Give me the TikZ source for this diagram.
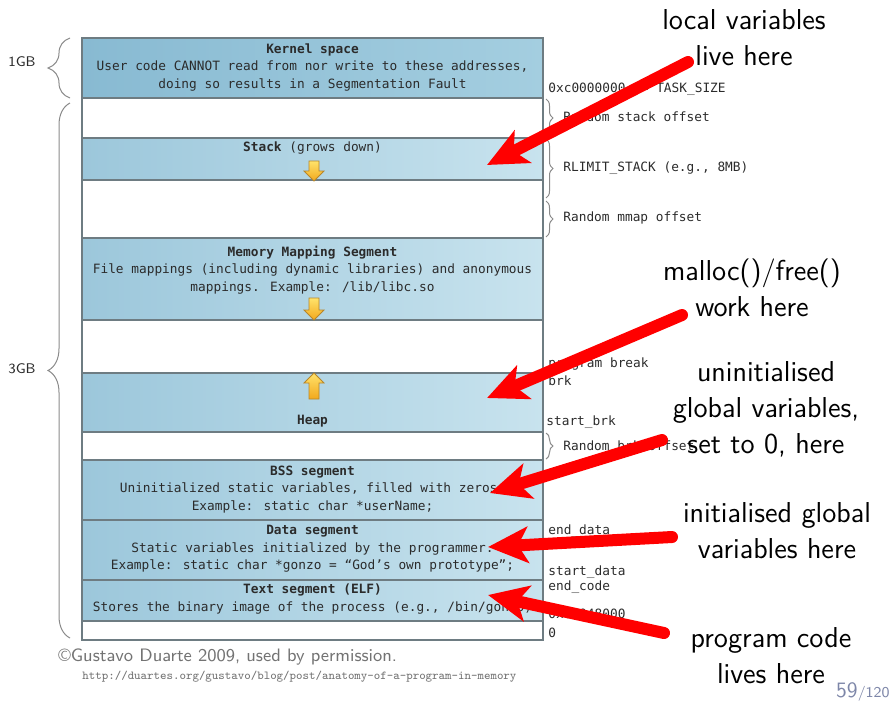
\documentclass[tikz,border=0pt]{standalone}
\usepackage{fontspec}
\newfontfamily\diagfont{DejaVu Sans Mono}
\usepackage{tikz}
\usetikzlibrary{positioning}
\usetikzlibrary{arrows.meta}
\usetikzlibrary{decorations.pathreplacing}
\definecolor{segL}{HTML}{9CC7DB}
\definecolor{segR}{HTML}{C8E3EE}
\definecolor{kerL}{HTML}{88BAD2}
\definecolor{kerR}{HTML}{A4CEE0}
\definecolor{segline}{HTML}{6E7C82}
\definecolor{inkgray}{HTML}{2B2B2B}
\definecolor{bracegray}{HTML}{8A8A8A}
\definecolor{growA}{HTML}{FFE36B}
\definecolor{growB}{HTML}{F2A81D}
\definecolor{growline}{HTML}{B7862A}
\definecolor{footgray}{HTML}{7D86A8}
\tikzset{
  seg/.style={draw=segline, line width=0.7pt, left color=segL, right color=segR},
  kernelseg/.style={draw=segline, line width=0.7pt, left color=kerL, right color=kerR},
  freeseg/.style={draw=segline, line width=0.7pt, fill=white},
  segtext/.style={font=\diagfont\fontsize{6.4}{8.75}\selectfont, text=inkgray, align=center, inner sep=0pt},
  addr/.style={font=\diagfont\fontsize{6.4}{8.75}\selectfont, text=inkgray, anchor=west, inner sep=0pt},
  bigbrace/.style={decorate, decoration={brace, amplitude=11pt}, draw=bracegray, line width=0.5pt},
  smallbrace/.style={decorate, decoration={brace, amplitude=3.5pt}, draw=bracegray, line width=0.5pt},
  growth/.style={draw=growline, line width=0.4pt, top color=growA, bottom color=growB},
  redarrow/.style={draw=red, line width=6pt, line cap=round, -{Stealth[length=20pt, width=18pt, inset=5pt]}},
  sidenote/.style={font=\sffamily\fontsize{14.4}{18}\selectfont, align=center, inner sep=0pt}
}
\begin{document}
\begin{tikzpicture}[x=0.5pt, y=-0.5pt]
\useasboundingbox (0,0) rectangle (892,702);

%Segments
\draw[kernelseg] (82,38) rectangle (543,98);
\draw[freeseg] (82,98) rectangle (543,138);
\draw[seg] (82,138) rectangle (543,180);
\draw[freeseg] (82,180) rectangle (543,238);
\draw[seg] (82,238) rectangle (543,320);
\draw[freeseg] (82,320) rectangle (543,373);
\draw[seg] (82,373) rectangle (543,432);
\draw[freeseg] (82,432) rectangle (543,460);
\draw[seg] (82,460) rectangle (543,520);
\draw[seg] (82,520) rectangle (543,580);
\draw[seg] (82,580) rectangle (543,621);
\draw[freeseg] (82,621) rectangle (543,640);

%Growth arrows
\draw[growth] (309,161) -- (319,161) -- (319,171) -- (324,171) -- (314,181) -- (304,171) -- (309,171) -- cycle;
\draw[growth] (309,298) -- (319,298) -- (319,310) -- (324,310) -- (314,320) -- (304,310) -- (309,310) -- cycle;
\draw[growth] (309,399) -- (319,399) -- (319,383) -- (324,383) -- (314,373) -- (304,383) -- (309,383) -- cycle;

%Segment texts
\node[segtext] (kernelTxt) at (312.5,67.5) {\textbf{Kernel space}\\User code CANNOT read from nor write to these addresses,\\doing so results in a Segmentation Fault};
\node[segtext] (stackTxt) at (312.5,148) {\textbf{Stack} (grows down)};
\node[segtext] (mmapTxt) at (312.5,270) {\textbf{Memory Mapping Segment}\\File mappings (including dynamic libraries) and anonymous\\mappings. Example: /lib/libc.so};
\node[segtext] (heapTxt) at (312.5,421) {\textbf{Heap}};
\node[segtext] (bssTxt) at (312.5,489.5) {\textbf{BSS segment}\\Uninitialized static variables, filled with zeros.\\Example: static char *userName;};
\node[segtext] (dataTxt) at (312.5,549) {\textbf{Data segment}\\Static variables initialized by the programmer.\\Example: static char *gonzo = “God’s own prototype”;};
\node[segtext] (textTxt) at (312.5,599) {\textbf{Text segment (ELF)}\\Stores the binary image of the process (e.g., /bin/gonzo)};

%Size braces
\draw[bigbrace] (70,98) -- (70,38);
\draw[bigbrace] (70,638) -- (70,103);
\node[font=\sffamily\fontsize{7}{8}\selectfont, text=inkgray] (oneGB) at (22,62) {1GB};
\node[font=\sffamily\fontsize{7}{8}\selectfont, text=inkgray] (threeGB) at (22,369) {3GB};

%Offset braces
\draw[smallbrace] (546,99) -- (546,137);
\draw[smallbrace] (546,139) -- (546,198);
\draw[smallbrace] (546,201) -- (546,237);
\draw[smallbrace] (546,433) -- (546,459);

%Addresses
\node[addr] (taskSize) at (548,89) {0xc0000000 == TASK\_SIZE};
\node[addr] (stackOff) at (563,117) {Random stack offset};
\node[addr] (rlimit) at (563,168) {RLIMIT\_STACK (e.g., 8MB)};
\node[addr] (mmapOff) at (563,218) {Random mmap offset};
\node[addr] (progBreak) at (548,364) {program break};
\node[addr] (brk) at (548,381) {brk};
\node[addr] (startBrk) at (546,422) {start\_brk};
\node[addr] (brkOff) at (563,446) {Random brk offset};
\node[addr] (endData) at (548,531) {end\_data};
\node[addr] (startData) at (548,572) {start\_data};
\node[addr] (endCode) at (548,587) {end\_code};
\node[addr] (textStart) at (548,614) {0x08048000};
\node[addr] (zero) at (548,633) {0};

%Credit
\node[anchor=west, inner sep=0pt, text=black!55, font=\sffamily\fontsize{9}{11}\selectfont] (credit) at (58,657) {\textcopyright Gustavo Duarte 2009, used by permission.};
\node[anchor=west, inner sep=0pt, text=black!55, font=\ttfamily\fontsize{6.1}{7}\selectfont] (link) at (82,677) {http://duartes.org/gustavo/blog/post/anatomy-of-a-program-in-memory};

%Notes
\node[sidenote] (localLbl) at (744,38) {local variables\\live here};
\node[sidenote] (mallocLbl) at (752,288) {malloc()/free()\\work here};
\node[sidenote] (bssLbl) at (766,409) {uninitialised\\global variables,\\set to 0, here};
\node[sidenote] (dataLbl) at (777,531) {initialised global\\variables here};
\node[sidenote] (codeLbl) at (771,656) {program code\\lives here};

%Arrow ends
\coordinate (stackPt) at (487,165);
\coordinate (heapPt) at (487,398);
\coordinate (bssPt) at (490,493);
\coordinate (dataPt) at (488,547);
\coordinate (textPt) at (488,595);
\coordinate (localTail) at (688,62);
\coordinate (mallocTail) at (682,315);
\coordinate (bssTail) at (662,440);
\coordinate (dataTail) at (672,537);
\coordinate (codeTail) at (664,633);

%Arrows
\draw[redarrow] (localTail) -- (stackPt);
\draw[redarrow] (mallocTail) -- (heapPt);
\draw[redarrow] (bssTail) -- (bssPt);
\draw[redarrow] (dataTail) -- (dataPt);
\draw[redarrow] (codeTail) -- (textPt);

%Frame number
\node[anchor=base east, inner sep=0pt, text=footgray, font=\sffamily] (pageNo) at (890,697) {{\fontsize{11}{13}\selectfont 59}{\fontsize{7.5}{9}\selectfont/120}};
\end{tikzpicture}
\end{document}
